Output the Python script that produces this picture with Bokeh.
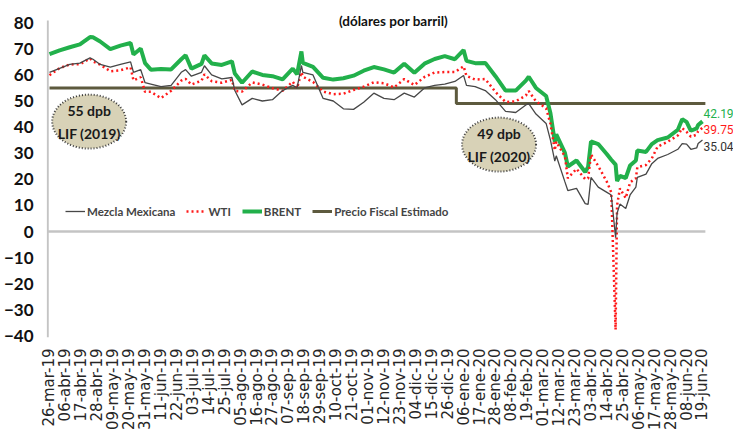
import pandas as pd
from bokeh.plotting import figure
from bokeh.models import FixedTicker, Range1d, Legend, LegendItem, Label
from bokeh.core.properties import value
from bokeh.embed import file_html
from bokeh.resources import INLINE

# ---------------- data ----------------
dates = [
    "2019-03-26", "2019-04-02", "2019-04-09", "2019-04-16", "2019-04-23", "2019-04-25", "2019-04-30",
    "2019-05-07", "2019-05-14", "2019-05-21", "2019-05-23", "2019-05-28", "2019-05-31",
    "2019-06-04", "2019-06-11", "2019-06-18", "2019-06-25", "2019-06-28",
    "2019-07-02", "2019-07-09", "2019-07-11", "2019-07-16", "2019-07-23", "2019-07-30",
    "2019-08-01", "2019-08-06", "2019-08-13", "2019-08-20", "2019-08-27",
    "2019-09-03", "2019-09-10", "2019-09-13", "2019-09-16", "2019-09-17", "2019-09-24",
    "2019-10-01", "2019-10-08", "2019-10-15", "2019-10-22", "2019-10-29",
    "2019-11-05", "2019-11-12", "2019-11-19", "2019-11-26",
    "2019-12-03", "2019-12-10", "2019-12-17", "2019-12-24", "2019-12-31",
    "2020-01-06", "2020-01-08", "2020-01-14", "2020-01-21", "2020-01-28",
    "2020-02-04", "2020-02-11", "2020-02-18", "2020-02-20", "2020-02-25",
    "2020-03-03", "2020-03-06", "2020-03-09", "2020-03-10", "2020-03-16", "2020-03-18", "2020-03-24", "2020-03-30",
    "2020-04-01", "2020-04-03", "2020-04-08", "2020-04-14", "2020-04-17", "2020-04-20", "2020-04-21", "2020-04-23", "2020-04-27", "2020-04-30",
    "2020-05-04", "2020-05-05", "2020-05-11", "2020-05-15", "2020-05-19", "2020-05-26",
    "2020-06-02", "2020-06-05", "2020-06-08", "2020-06-11", "2020-06-15", "2020-06-16", "2020-06-19",
]

brent = [
    68.0, 69.4, 70.6, 71.7, 74.5, 74.4, 72.8,
    69.9, 71.2, 72.2, 67.8, 70.1, 64.5,
    62.0, 62.3, 62.1, 66.0, 67.5,
    62.4, 64.2, 67.5, 64.4, 63.8, 65.2,
    60.5, 57.0, 61.3, 60.0, 59.5,
    58.3, 62.4, 60.2, 69.0, 64.6, 63.1,
    58.9, 58.2, 58.7, 59.7, 61.6,
    63.0, 62.1, 60.9, 64.3,
    60.8, 64.3, 66.1, 67.2, 66.0,
    69.5, 65.4, 64.5, 64.6, 59.5,
    54.0, 54.0, 57.8, 59.3, 55.0,
    51.9, 45.3, 34.4, 37.2, 30.1, 24.9, 27.2, 22.8,
    24.7, 34.5, 33.5, 29.6, 27.5, 25.6, 19.3, 21.3, 20.5, 25.3,
    27.2, 31.0, 30.5, 33.5, 35.0, 36.0,
    39.0, 43.0, 42.0, 38.6, 39.5, 40.8, 42.19,
]

wti = [
    59.9, 62.6, 64.0, 64.1, 66.3, 65.2, 63.9,
    61.4, 61.8, 62.9, 57.9, 59.1, 53.5,
    53.5, 51.1, 53.9, 57.8, 58.5,
    56.3, 57.8, 60.2, 57.6, 57.0, 58.1,
    53.9, 53.6, 57.1, 56.3, 54.9,
    53.9, 57.4, 54.9, 61.0, 59.3, 57.3,
    53.6, 52.6, 52.8, 54.2, 55.5,
    57.2, 56.8, 55.2, 58.4,
    56.1, 59.2, 60.9, 61.1, 61.1,
    63.3, 59.6, 58.2, 58.4, 53.5,
    49.6, 49.9, 52.1, 53.8, 49.9,
    47.2, 41.3, 31.1, 34.4, 28.7, 20.4, 24.0, 20.1,
    20.3, 29.5, 25.1, 19.0, 15.0, -37.63, 10.0, 16.5, 12.8, 18.8,
    20.4, 24.6, 25.5, 28.0, 32.5, 34.4,
    36.8, 39.6, 38.2, 36.3, 37.1, 38.4, 39.75,
]

mezcla = [
    61.0, 62.5, 64.0, 64.5, 66.5, 66.0, 64.0,
    63.0, 64.0, 65.0, 61.0, 62.0, 57.0,
    56.5, 55.5, 56.0, 61.0, 62.0,
    59.5, 61.0, 63.5, 60.0, 58.5, 59.0,
    54.0, 48.5, 51.0, 50.0, 50.5,
    54.0, 56.0, 55.0, 63.6, 61.0, 60.0,
    51.0, 50.0, 47.0, 46.8, 49.5,
    53.0, 51.0, 50.5, 53.0,
    51.5, 55.0, 56.0, 56.5, 57.5,
    59.8, 56.0, 55.5, 54.0, 50.5,
    46.0, 45.6, 48.5, 49.0, 45.0,
    41.4, 35.0, 27.0, 29.0, 19.0, 15.7, 16.5, 10.7,
    10.4, 20.7, 17.0, 15.0, 14.0, -2.37, 7.0, 10.5, 8.8, 14.0,
    17.0, 20.7, 22.0, 26.0, 28.0, 29.5,
    31.5, 33.7, 33.5, 31.5, 32.0, 33.7, 35.04,
]

fiscal_dates = ["2019-03-26", "2020-01-01", "2020-06-21"]
fiscal = [55, 49, 49]

tick_labels = [
    "26-mar-19", "06-abr-19", "17-abr-19", "28-abr-19", "09-may-19", "20-may-19", "31-may-19",
    "11-jun-19", "22-jun-19", "03-jul-19", "14-jul-19", "25-jul-19", "05-ago-19", "16-ago-19",
    "27-ago-19", "07-sep-19", "18-sep-19", "29-sep-19", "10-oct-19", "21-oct-19", "01-nov-19",
    "12-nov-19", "23-nov-19", "04-dic-19", "15-dic-19", "26-dic-19", "06-ene-20", "17-ene-20",
    "28-ene-20", "08-feb-20", "19-feb-20", "01-mar-20", "12-mar-20", "23-mar-20", "03-abr-20",
    "14-abr-20", "25-abr-20", "06-may-20", "17-may-20", "28-may-20", "08-jun-20", "19-jun-20",
]
y_ticks = [-40, -30, -20, -10, 0, 10, 20, 30, 40, 50, 60, 70, 80]

series_names = ["Mezcla Mexicana", "WTI", "BRENT", "Precio Fiscal Estimado"]
end_values = ["42.19", "39.75", "35.04"]
notes = [("55 dpb", "LIF (2019)"), ("49 dpb", "LIF (2020)")]
title_text = "(dólares por barril)"

# ---------------- helpers ----------------
MESES = {"ene": 1, "feb": 2, "mar": 3, "abr": 4, "may": 5, "jun": 6,
         "jul": 7, "ago": 8, "sep": 9, "oct": 10, "nov": 11, "dic": 12}
ORIGIN = pd.Timestamp(dates[0])


def day(s):
    return (pd.Timestamp(s) - ORIGIN).days


def label_day(lbl):
    d, m, y = lbl.split("-")
    return day(f"20{y}-{MESES[m]:02d}-{d}")


xd = [day(s) for s in dates]
fx = [day(s) for s in fiscal_dates]
tick_days = [label_day(t) for t in tick_labels]

BOLD = "Lato"
GREEN = "#22b04b"
RED = "#ff1a1a"
GRAY = "#474747"
OLIVE = "#5d5a3e"

p = figure(frame_width=690, frame_height=329,
           x_range=Range1d(-2.07, 474.5), y_range=Range1d(-40.61, 85.44),
           output_backend="svg", toolbar_location=None,
           min_border_left=35, min_border_right=0, min_border_top=8, min_border_bottom=86)
p.outline_line_color = None
p.xgrid.visible = False
p.ygrid.visible = False

# axes
p.yaxis.ticker = FixedTicker(ticks=y_ticks)
p.yaxis.axis_line_color = None
p.yaxis.major_tick_line_color = None
p.yaxis.minor_tick_line_color = None
p.yaxis.major_label_standoff = 7
p.yaxis.major_label_text_font = BOLD
p.yaxis.major_label_text_font_style = "bold"
p.yaxis.major_label_text_font_size = "17px"
p.yaxis.major_label_text_color = "#111111"

p.xaxis.ticker = FixedTicker(ticks=tick_days)
p.xaxis.major_label_overrides = {d: t for d, t in zip(tick_days, tick_labels)}
p.xaxis.major_label_orientation = 3.14159265 / 2
p.xaxis.axis_line_color = None
p.xaxis.major_tick_line_color = None
p.xaxis.minor_tick_line_color = None
p.xaxis.major_label_standoff = 5
p.xaxis.major_label_text_font = "DejaVu Sans"
p.xaxis.major_label_text_font_size = "15px"
p.xaxis.major_label_text_color = "#262626"

# y axis line and zero line
p.segment(x0=[-1.2], y0=[-40.6], x1=[-1.2], y1=[80.8], line_color="#c4c4c4", line_width=2)
p.segment(x0=[-1.2], y0=[0], x1=[fx[-1]], y1=[0], line_color="#c4c4c4", line_width=2.5)

# series
r_fis = p.step(fx, fiscal, mode="after", line_color=OLIVE, line_width=3)
r_brent = p.line(xd, brent, line_color=GREEN, line_width=4)
r_wti = p.line(xd, wti, line_color=RED, line_width=2.5, line_dash="2 3")
r_mme = p.line(xd, mezcla, line_color=GRAY, line_width=1.3)

legend = Legend(items=[LegendItem(label=series_names[0], renderers=[r_mme]),
                       LegendItem(label=series_names[1], renderers=[r_wti]),
                       LegendItem(label=series_names[2], renderers=[r_brent]),
                       LegendItem(label=series_names[3], renderers=[r_fis])],
                orientation="horizontal", location=(19, 116),
                border_line_color=None, background_fill_alpha=0,
                label_text_font=BOLD, label_text_font_style="bold",
                label_text_font_size="11.5px", glyph_width=20, glyph_height=20,
                label_standoff=2, spacing=11, padding=0, margin=0)
p.add_layout(legend)

# annotation ellipses
note_x = [27.4, 310.5]
note_y = [42.1, 33.3]
p.ellipse(x=note_x, y=note_y, width=74, height=54, width_units="screen", height_units="screen",
          fill_color="#d8d2b7", line_color="#3a3a3a", line_width=2, line_dash="1 2")
p.text(x=note_x, y=note_y, text=[n[0] for n in notes], y_offset=-11,
       text_align="center", text_baseline="middle", text_font=value(BOLD),
       text_font_style="bold", text_font_size="14px", text_color="#1a1a1a")
p.text(x=note_x, y=note_y, text=[n[1] for n in notes], y_offset=12,
       text_align="center", text_baseline="middle", text_font=value(BOLD),
       text_font_style="bold", text_font_size="14px", text_color="#1a1a1a")

# end labels
p.text(x=[xd[-1]] * 3, y=[45.2, 39.1, 32.6], text=end_values, x_offset=1,
       text_align="left", text_baseline="middle", text_font=value("Roboto"),
       text_font_size="12px", text_color=[GREEN, RED, "#333333"])

# title
p.add_layout(Label(x=237.6, y=80.5, text=title_text, text_align="center", text_baseline="middle",
                   text_font=BOLD, text_font_style="bold", text_font_size="13.5px",
                   text_color="#111111"))

open("out.html", "w").write(file_html(p, INLINE))
